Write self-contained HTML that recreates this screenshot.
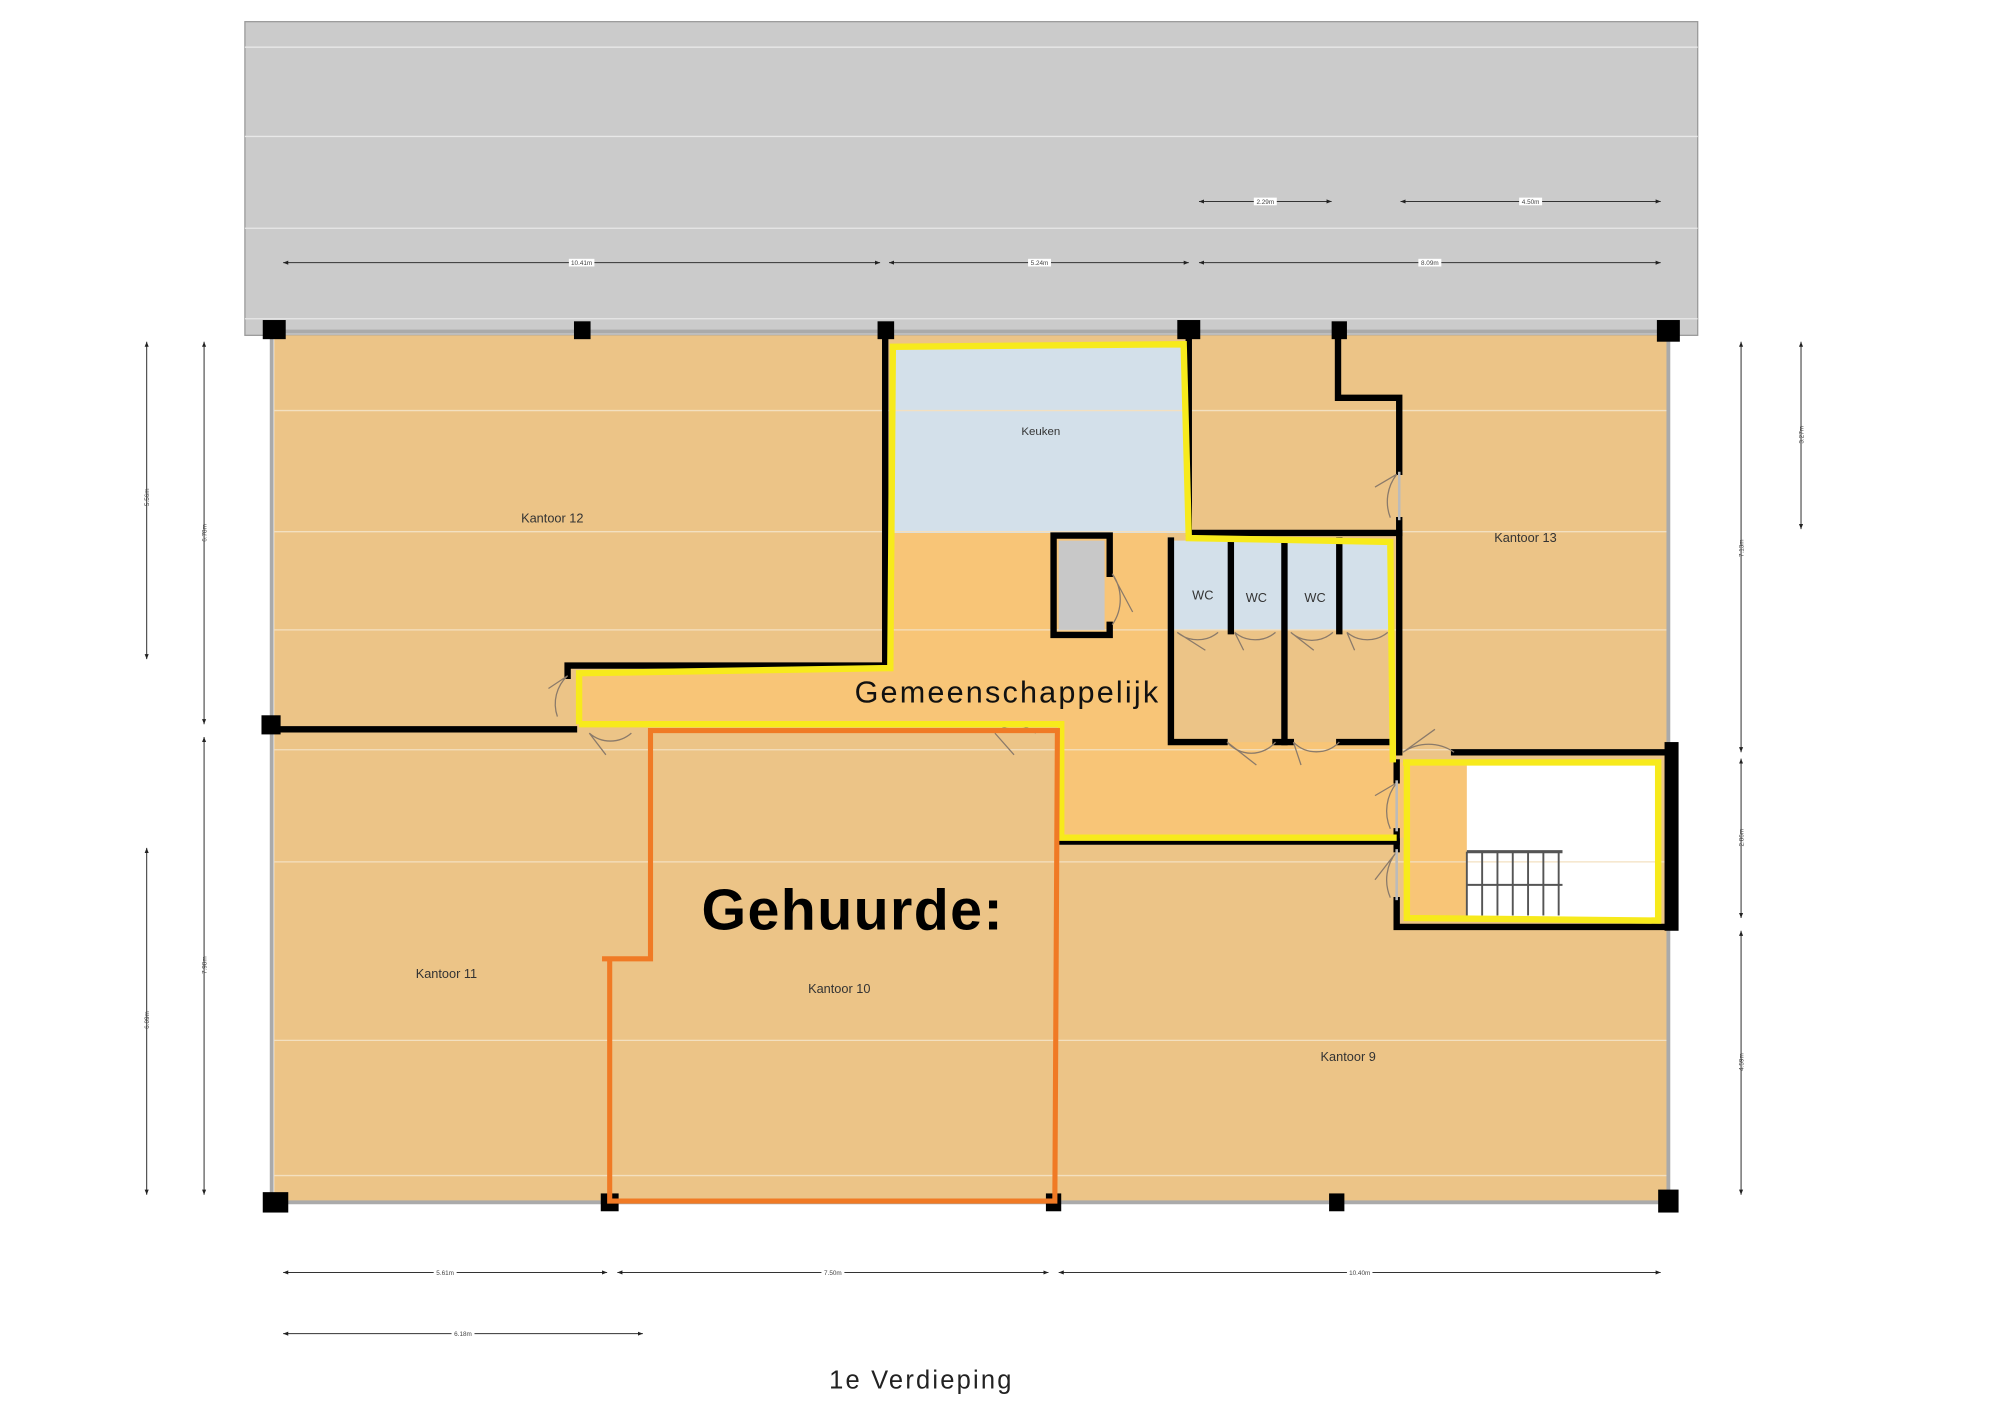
<!DOCTYPE html>
<html><head><meta charset="utf-8"><style>
html,body{margin:0;padding:0;background:#fff;}
svg{display:block;}
text{font-family:"Liberation Sans",sans-serif;}
</style></head><body>
<svg width="2000" height="1414" viewBox="0 0 1568 1109" preserveAspectRatio="none" xmlns="http://www.w3.org/2000/svg">
<defs>
<marker id="a" viewBox="0 0 10 10" refX="10" refY="5" markerWidth="5" markerHeight="5" orient="auto-start-reverse"><path d="M0,1 L10,5 L0,9 Z" fill="#222"/></marker>
</defs>
<rect width="1568" height="1109" fill="#fff"/>
<rect x="192" y="17" width="1139" height="246" fill="#cbcbcb" stroke="#999" stroke-width="1"/>
<g stroke="#e8e8e8" stroke-width="1">
<line x1="192" y1="37" x2="1331" y2="37"/><line x1="192" y1="107" x2="1331" y2="107"/>
<line x1="192" y1="179" x2="1331" y2="179"/><line x1="192" y1="250" x2="1331" y2="250"/>
</g>
<rect x="215" y="263" width="1093" height="679" fill="#ecc487"/>
<path d="M700,418 L915,418 L915,582 L1095,582 L1095,598 L1150,598 L1150,722 L1100,722 L1100,657 L830,657 L830,570 L452,570 L452,526 L700,524 Z" fill="#f8c577"/>
<rect x="700" y="272" width="230" height="146" fill="#d3e0ea"/>
<rect x="920" y="424" width="170" height="70" fill="#d3e0ea"/>
<rect x="1150" y="600" width="150" height="120" fill="#fff"/>
<g stroke="#f3e0c0" stroke-width="1">
<line x1="215" y1="322" x2="1308" y2="322"/><line x1="215" y1="417" x2="1308" y2="417"/>
<line x1="215" y1="494" x2="1308" y2="494"/><line x1="215" y1="588" x2="1308" y2="588"/>
<line x1="215" y1="676" x2="1308" y2="676"/><line x1="215" y1="816" x2="1308" y2="816"/>
<line x1="215" y1="922" x2="1308" y2="922"/>
</g>
<g stroke="#aaa" stroke-width="3" fill="none">
<line x1="213" y1="263" x2="213" y2="942"/><line x1="1308" y1="263" x2="1308" y2="942"/>
<line x1="215" y1="260" x2="1308" y2="260"/><line x1="215" y1="943" x2="1308" y2="943"/>
</g>
<g stroke="#000" stroke-width="5" fill="none" stroke-linecap="square">
<path d="M694,263 L694,522 L445,522 L445,530"/>
<path d="M213,572 L450,572"/>
<path d="M932,263 L932,418 L1097,418"/>
<path d="M1049,263 L1049,312 L1097,312 L1097,370"/>
<path d="M1097,408 L1097,590"/>
<path d="M1095,598 L1095,612"/><path d="M1095,652 L1095,666"/><path d="M1095,706 L1095,727 L1312,727"/>
<path d="M1140,590 L1310,590"/>
<path d="M918,424 L918,582 L960,582"/><path d="M1000,582 L1012,582"/><path d="M1050,582 L1090,582"/>
<path d="M965,424 L965,495"/><path d="M1007,424 L1007,582"/><path d="M1050,424 L1050,495"/>
<path d="M830,660 L1095,660"/>
<path d="M826,420 L870,420 M826,420 L826,498 L870,498 M870,420 L870,450 M870,490 L870,498"/>
</g>
<rect x="1305" y="582" width="11" height="148" fill="#000"/>
<rect x="830" y="424" width="36" height="70" fill="#c8c8c8"/>
<g fill="#000">
<rect x="206" y="251" width="18" height="15"/><rect x="450" y="252" width="13" height="14"/>
<rect x="688" y="252" width="13" height="14"/><rect x="923" y="251" width="18" height="15"/>
<rect x="1044" y="252" width="12" height="14"/><rect x="1299" y="251" width="18" height="17"/>
<rect x="205" y="561" width="15" height="15"/>
<rect x="206" y="935" width="20" height="16"/><rect x="471" y="936" width="14" height="14"/>
<rect x="820" y="936" width="12" height="14"/><rect x="1042" y="936" width="12" height="14"/>
<rect x="1300" y="933" width="16" height="18"/>
</g>
<g stroke="#8a7a6a" stroke-width="1" fill="none">
<path d="M445,530 L430,540 M445,530 A30,30 0 0 0 437,562"/>
<path d="M462,575 L475,592 M462,575 A25,25 0 0 0 495,575"/>
<path d="M780,575 L795,592 M780,575 A25,25 0 0 1 812,575"/>
<path d="M872,450 L888,480 M872,450 A35,35 0 0 1 872,490"/>
<path d="M923,496 L945,510 M923,496 A25,25 0 0 0 955,496"/>
<path d="M968,496 L975,510 M968,496 A25,25 0 0 0 1000,496"/>
<path d="M1012,496 L1030,510 M1012,496 A25,25 0 0 0 1045,496"/>
<path d="M1056,496 L1062,510 M1056,496 A25,25 0 0 0 1088,496"/>
<path d="M962,582 L985,600 M962,582 A25,25 0 0 0 1000,582"/>
<path d="M1014,582 L1020,600 M1014,582 A25,25 0 0 0 1050,582"/>
<path d="M1095,372 L1078,382 M1095,372 A35,35 0 0 0 1090,406"/>
<path d="M1100,590 L1125,572 M1100,590 A35,35 0 0 1 1140,590"/>
<path d="M1095,614 L1078,624 M1095,614 A35,35 0 0 0 1090,650"/>
<path d="M1095,668 L1078,690 M1095,668 A35,35 0 0 0 1090,704"/>
</g>
<g stroke="#bbb" stroke-width="2"><line x1="1097" y1="370" x2="1097" y2="408"/><line x1="1095" y1="612" x2="1095" y2="652"/><line x1="1095" y1="666" x2="1095" y2="706"/></g>
<g stroke="#555" stroke-width="1.5">
<line x1="1150" y1="668" x2="1225" y2="668" stroke-width="2.5"/>
<line x1="1150" y1="668" x2="1150" y2="718"/><line x1="1162" y1="668" x2="1162" y2="718"/>
<line x1="1174" y1="668" x2="1174" y2="718"/><line x1="1186" y1="668" x2="1186" y2="718"/>
<line x1="1198" y1="668" x2="1198" y2="718"/><line x1="1210" y1="668" x2="1210" y2="718"/>
<line x1="1222" y1="668" x2="1222" y2="718"/>
<line x1="1150" y1="694" x2="1225" y2="694"/>
</g>
<g stroke="#f7ea1c" stroke-width="5" fill="none">
<path d="M454,568 L454,528 L698,524 L700,272 L928,270 L932,422 L1090,425 L1092,598"/>
<path d="M454,568 L832,568 L832,657 L1095,657"/>
<path d="M1100,598 L1300,598 L1300,722 L1103,720 L1103,598"/>
</g>
<path d="M508,573 L829,573 L827,942 L478,942 L478,752 L472,752 L510,752 L510,573" stroke="#f07a25" stroke-width="4" fill="none"/>
<g font-size="10" fill="#333" text-anchor="middle">
<text x="816" y="341" font-size="9">Keuken</text>
<text x="433" y="410">Kantoor 12</text>
<text x="1196" y="425">Kantoor 13</text>
<text x="350" y="767">Kantoor 11</text>
<text x="658" y="779">Kantoor 10</text>
<text x="1057" y="832">Kantoor 9</text>
<text x="943" y="470">WC</text><text x="985" y="472">WC</text><text x="1031" y="472">WC</text>
</g>
<text x="670" y="551" font-size="24" fill="#111" textLength="238">Gemeenschappelijk</text>
<text x="550" y="729" font-size="45" font-weight="bold" fill="#000" textLength="236">Gehuurde:</text>
<text x="650" y="1089" font-size="20" fill="#222" textLength="143">1e Verdieping</text>
<g stroke="#333" stroke-width="0.8" marker-start="url(#a)" marker-end="url(#a)">
<line x1="222" y1="206" x2="690" y2="206"/><line x1="697" y1="206" x2="932" y2="206"/><line x1="940" y1="206" x2="1302" y2="206"/>
<line x1="940" y1="158" x2="1044" y2="158"/><line x1="1098" y1="158" x2="1302" y2="158"/>
<line x1="222" y1="998" x2="476" y2="998"/><line x1="484" y1="998" x2="822" y2="998"/><line x1="830" y1="998" x2="1302" y2="998"/>
<line x1="222" y1="1046" x2="504" y2="1046"/>
<line x1="115" y1="268" x2="115" y2="517"/><line x1="115" y1="665" x2="115" y2="937"/>
<line x1="160" y1="268" x2="160" y2="568"/><line x1="160" y1="578" x2="160" y2="937"/>
<line x1="1365" y1="268" x2="1365" y2="590"/><line x1="1365" y1="595" x2="1365" y2="720"/><line x1="1365" y1="730" x2="1365" y2="937"/>
<line x1="1412" y1="268" x2="1412" y2="415"/>
</g>
<g fill="#fff">
<rect x="446" y="203" width="20" height="6"/><rect x="806" y="203" width="18" height="6"/><rect x="1112" y="203" width="18" height="6"/>
<rect x="983" y="155" width="18" height="6"/><rect x="1191" y="155" width="18" height="6"/>
<rect x="340" y="995" width="18" height="6"/><rect x="644" y="995" width="18" height="6"/><rect x="1056" y="995" width="20" height="6"/>
<rect x="354" y="1043" width="18" height="6"/>
</g>
<g font-size="5" fill="#444" text-anchor="middle">
<text x="456" y="208">10.41m</text><text x="815" y="208">5.24m</text><text x="1121" y="208">8.09m</text>
<text x="992" y="160">2.29m</text><text x="1200" y="160">4.50m</text>
<text x="349" y="1000">5.61m</text><text x="653" y="1000">7.50m</text><text x="1066" y="1000">10.40m</text>
<text x="363" y="1048">6.18m</text>
<text transform="translate(117,390) rotate(-90)">5.56m</text>
<text transform="translate(162,418) rotate(-90)">6.78m</text>
<text transform="translate(117,800) rotate(-90)">6.09m</text>
<text transform="translate(162,757) rotate(-90)">7.98m</text>
<text transform="translate(1367,430) rotate(-90)">7.13m</text>
<text transform="translate(1367,657) rotate(-90)">2.86m</text>
<text transform="translate(1367,833) rotate(-90)">4.59m</text>
<text transform="translate(1414,341) rotate(-90)">3.27m</text>
</g>
</svg>
</body></html>
